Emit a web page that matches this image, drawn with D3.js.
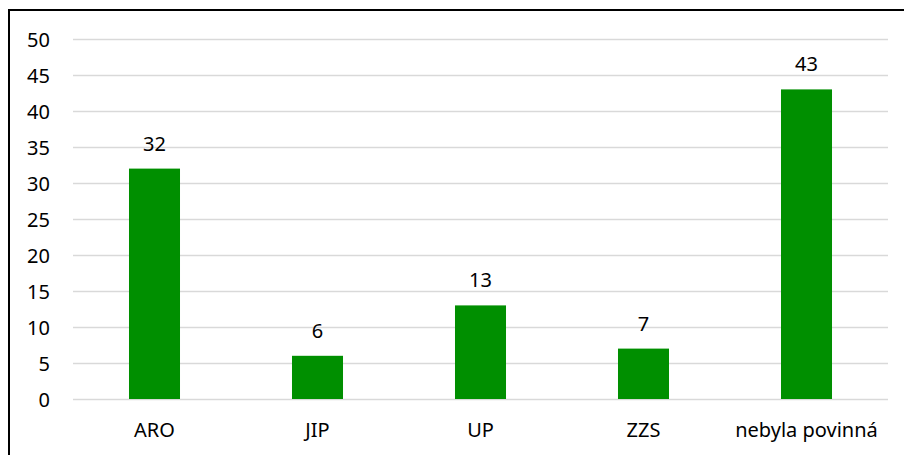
<!DOCTYPE html>
<html>
<head>
<meta charset="utf-8">
<script src="https://cdn.jsdelivr.net/npm/d3@7"></script>
<style>
  body { margin: 0; background: #fff; }
  text { font-family: "Noto Sans", "Open Sans", sans-serif; fill: #000; }
</style>
</head>
<body>
<div id="chart"></div>
<script>
var categories = ["ARO", "JIP", "UP", "ZZS", "nebyla povinná"];
var values = [32, 6, 13, 7, 43];
var yTicks = [0, 5, 10, 15, 20, 25, 30, 35, 40, 45, 50];

var W = 904, H = 455;
var margin = {top: 39, right: 16, bottom: 56, left: 73};
var width = W - margin.left - margin.right,
    height = H - margin.top - margin.bottom;

var svg = d3.select("#chart").append("svg")
    .attr("width", W)
    .attr("height", H);

// outer frame (runs off the right and bottom edge)
svg.append("rect")
    .attr("x", 9).attr("y", 10)
    .attr("width", W + 10).attr("height", H + 10)
    .attr("fill", "none")
    .attr("stroke", "#000")
    .attr("stroke-width", 2);

var g = svg.append("g")
    .attr("transform", "translate(" + margin.left + "," + margin.top + ")");

var x = d3.scaleBand().domain(categories).range([0, width]).padding(0);
var y = d3.scaleLinear().domain([0, 50]).range([height, 0]);

// gridlines
g.selectAll(".grid")
    .data(yTicks)
  .enter().append("line")
    .attr("class", "grid")
    .attr("x1", 0).attr("x2", width)
    .attr("y1", function(d) { return Math.round(y(d)) + 0.5; })
    .attr("y2", function(d) { return Math.round(y(d)) + 0.5; })
    .attr("stroke", "#d9d9d9")
    .attr("stroke-width", 1.5);

// y axis labels
var yAxis = d3.axisLeft(y).tickValues(yTicks).tickSize(0).tickPadding(23);
g.append("g").call(yAxis)
    .call(function(s) { s.select(".domain").remove(); })
    .selectAll("text")
    .style("font-size", "20px")
    .attr("dy", "0.35em");

// x axis labels
var xAxis = d3.axisBottom(x).tickSize(0).tickPadding(24);
g.append("g")
    .attr("transform", "translate(0," + height + ")")
    .call(xAxis)
    .call(function(s) { s.select(".domain").remove(); })
    .selectAll("text")
    .style("font-size", "20px");

var barW = x.bandwidth() * 0.313;

g.selectAll(".bar")
    .data(values)
  .enter().append("rect")
    .attr("class", "bar")
    .attr("x", function(d, i) { return x(categories[i]) + x.bandwidth() / 2 - barW / 2; })
    .attr("y", function(d) { return y(d); })
    .attr("width", barW)
    .attr("height", function(d) { return height - y(d); })
    .attr("fill", "#008f00");

g.selectAll(".val")
    .data(values)
  .enter().append("text")
    .attr("class", "val")
    .attr("x", function(d, i) { return x(categories[i]) + x.bandwidth() / 2; })
    .attr("y", function(d) { return y(d) - 18; })
    .attr("text-anchor", "middle")
    .style("font-size", "20px")
    .text(function(d) { return d; });
</script>
</body>
</html>
